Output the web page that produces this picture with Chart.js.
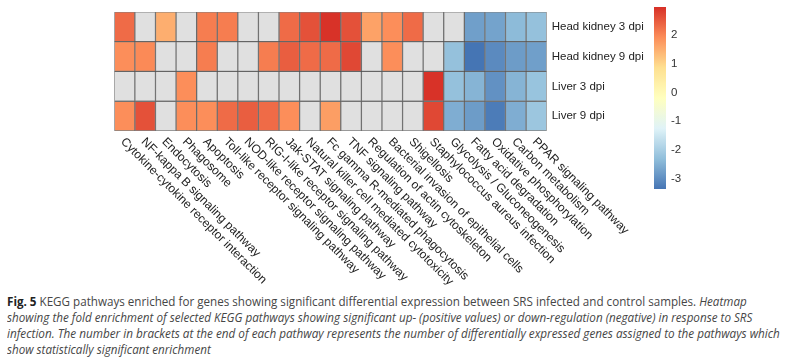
<!DOCTYPE html>
<html><head><meta charset="utf-8">
<script src="https://cdn.jsdelivr.net/npm/chart.js@4.4.1/dist/chart.umd.min.js"></script>
<style>
html,body{margin:0;padding:0;background:#fff;}
#wrap{position:relative;width:792px;height:358px;overflow:hidden;background:#fff;}
#c{position:absolute;left:0;top:0;}
#cap{position:absolute;left:7px;top:292.7px;width:900px;font-family:"Open Sans",sans-serif;font-size:13px;line-height:16px;color:#464646;}
#cap div{white-space:nowrap;transform-origin:0 0;width:max-content;}
#cap b{color:#222;}
</style></head><body>
<div id="wrap">
<canvas id="c" width="792" height="290"></canvas>
<div id="cap">
<div data-w="740"><b>Fig. 5</b> KEGG pathways enriched for genes showing significant differential expression between SRS infected and control samples. <i>Heatmap</i></div>
<div data-w="745"><i>showing the fold enrichment of selected KEGG pathways showing significant up- (positive values) or down-regulation (negative) in response to SRS</i></div>
<div data-w="773"><i>infection. The number in brackets at the end of each pathway represents the number of differentially expressed genes assigned to the pathways which</i></div>
<div data-w="204"><i>show statistically significant enrichment</i></div>
</div>
</div>
<script>
const pathways = ["Cytokine-cytokine receptor interaction","NF-kappa B signaling pathway","Endocytosis","Phagosome","Apoptosis","Toll-like receptor signaling pathway","NOD-like receptor signaling pathway","RIG-I-like receptor signaling pathway","Jak-STAT signaling pathway","Natural killer cell mediated cytotoxicity","Fc gamma R-mediated phagocytosis","TNF signaling pathway","Regulation of actin cytoskeleton","Bacterial invasion of epithelial cells","Shigellosis","Staphylococcus aureus infection","Glycolysis / Gluconeogenesis","Fatty acid degradation","Oxidative phosphorylation","Carbon metabolism","PPAR signaling pathway"];
const samples = ["Head kidney 3 dpi","Head kidney 9 dpi","Liver 3 dpi","Liver 9 dpi"];
const headKidney3dpi = [2.3,null,1.5,null,2.1,2.1,null,null,2.3,2.6,2.95,2.6,1.65,1.9,2.3,null,null,-2.75,-2.7,-2.35,-2.25];
const headKidney9dpi = [1.9,1.95,null,null,2.1,null,null,2.1,2.45,2.3,2.3,2.7,null,1.9,null,null,-2.25,-3.35,-3.05,-2.8,-2.75];
const liver3dpi = [null,null,null,1.9,null,null,null,null,null,null,null,null,null,null,null,2.95,-2.25,-2.45,-2.95,-2.45,-2.2];
const liver9dpi = [1.9,2.6,null,1.9,1.9,2.3,2.45,2.3,1.9,null,1.7,null,null,null,null,2.7,-2.55,-2.8,-3.25,-2.55,-2.15];
const legendTicks = [2,1,0,-1,-2,-3];
const valueMin = -3.35, valueMax = 2.97;

const rows = [headKidney3dpi, headKidney9dpi, liver3dpi, liver9dpi];
const palette = ["#4575B4","#91BFDB","#E0F3F8","#FFFFBF","#FEE090","#FC8D59","#D73027"];
const naColor = "#e0e0e0";
function hex(h){return [parseInt(h.slice(1,3),16),parseInt(h.slice(3,5),16),parseInt(h.slice(5,7),16)];}
function colorFor(v){
  if (v === null || v === undefined) return naColor;
  let t = (v - valueMin)/(valueMax - valueMin);
  t = Math.max(0, Math.min(1, t));
  const p = t*(palette.length-1);
  const i = Math.min(Math.floor(p), palette.length-2);
  const f = p - i;
  const a = hex(palette[i]), b = hex(palette[i+1]);
  const c = a.map((x,k)=>Math.round(x + (b[k]-x)*f));
  return `rgb(${c[0]},${c[1]},${c[2]})`;
}

const FONT = '"Liberation Sans", Arial, sans-serif';
const TXT = '#222';

const heatLabels = {
  id:'heatLabels',
  afterDraw(chart){
    const ctx = chart.ctx, xs = chart.scales.x, area = chart.chartArea;
    ctx.save();
    ctx.font = `12px ${FONT}`;
    ctx.fillStyle = TXT;
    ctx.textAlign = 'left';
    ctx.textBaseline = 'middle';
    xs.ticks.forEach((t,i)=>{
      const x = xs.getPixelForTick(i);
      ctx.save();
      ctx.translate(x - 2, area.bottom + 9);
      ctx.rotate(Math.PI/4);
      ctx.fillText(xs.getLabelForValue(t.value), 0, 0);
      ctx.restore();
    });
    // colour key
    const bx = 654, bw = 12, by0 = 7, by1 = 189;
    const yOf = v => by0 + (valueMax - v)/(valueMax - valueMin)*(by1 - by0);
    const g = ctx.createLinearGradient(0, by1, 0, by0);
    for (let k=0;k<=60;k++){ const v = valueMin + (valueMax-valueMin)*k/60; g.addColorStop(k/60, colorFor(v)); }
    ctx.fillStyle = g;
    ctx.fillRect(bx, by0, bw, by1-by0);
    ctx.fillStyle = '#333';
    ctx.font = `11.5px ${FONT}`;
    legendTicks.forEach(v=>{ ctx.fillText(String(v), 671, yOf(v)); });
    ctx.restore();
  }
};

const datasets = rows.map((vals, r)=>({
  label: samples[r],
  data: pathways.map(()=>[r, r+1]),
  backgroundColor: vals.map(colorFor),
  borderColor: 'rgba(45,45,45,0.6)',
  borderWidth: 1,
  borderSkipped: false,
  grouped: false,
  barPercentage: 1,
  categoryPercentage: 1
}));

new Chart(document.getElementById('c'), {
  type: 'bar',
  data: { labels: pathways, datasets },
  options: {
    responsive: false,
    animation: false,
    layout: { padding: { left: 114.3, top: 6.7, right: 0, bottom: 0 } },
    plugins: { legend: { display: false }, tooltip: { enabled: false } },
    scales: {
      x: {
        type: 'category', position: 'bottom', offset: true,
        grid: { display: false, drawTicks: false }, border: { display: false },
        ticks: { display: false },
        afterFit(s){ s.height = 290 - 131; }
      },
      y: {
        type: 'linear', position: 'right', min: 0, max: 4, reverse: true,
        grid: { display: false, drawTicks: false }, border: { display: false },
        afterBuildTicks(s){ s.ticks = samples.map((_,i)=>({ value: i + 0.5 })); },
        ticks: { padding: 5, color: TXT, font: { family: FONT, size: 11.5 }, callback: (v, i)=>samples[i] },
        afterFit(s){ s.width = 792 - 546.7; }
      }
    }
  },
  plugins: [heatLabels]
});

document.querySelectorAll('#cap div').forEach(d=>{
  const w = d.scrollWidth || d.getBoundingClientRect().width;
  const target = parseFloat(d.dataset.w);
  d.style.transform = `scaleX(${target / w})`;
});
</script>
</body></html>
